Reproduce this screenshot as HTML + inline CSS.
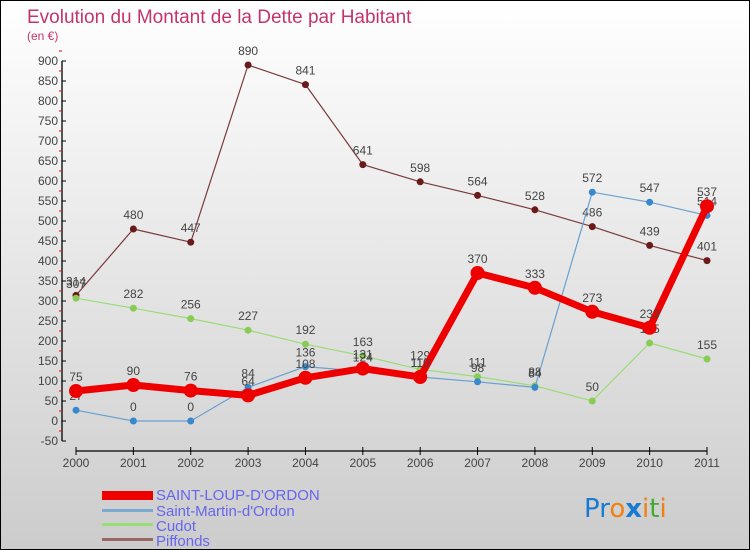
<!DOCTYPE html>
<html><head><meta charset="utf-8"><style>
body{margin:0}
#c{width:748px;height:548px;border:1px solid #000;background:linear-gradient(#fff,#ccc);position:relative;font-family:"Liberation Sans",sans-serif;overflow:hidden}
</style></head><body>
<div id="c">
<svg id="s" width="748" height="548" style="position:absolute;left:0;top:0">
<text x="26" y="22" font-size="19" fill="#c4346c">Evolution du Montant de la Dette par Habitant</text>
<text x="26" y="39" font-size="12" fill="#c4346c">(en €)</text>
<g id="ax"></g><g id="ser"></g>
<g>
<rect x="101" y="490" width="51" height="9" fill="#e00"/>
<text x="155" y="499" font-size="15" fill="#6666ee">SAINT-LOUP-D'ORDON</text>
<rect x="101" y="508" width="51" height="3" fill="#7aaad0"/>
<text x="155" y="515" font-size="15" fill="#6666ee">Saint-Martin-d'Ordon</text>
<rect x="101" y="522" width="51" height="3" fill="#99dd77"/>
<text x="155" y="530" font-size="15" fill="#6666ee">Cudot</text>
<rect x="101" y="537" width="51" height="3" fill="#996666"/>
<text x="155" y="545" font-size="15" fill="#6666ee">Piffonds</text>
</g>
<text x="583" y="516" font-size="26" font-family="DejaVu Sans"><tspan fill="#1a7ad0">Pr</tspan><tspan fill="#f08010">o</tspan><tspan fill="#1a7ad0" font-weight="bold">x</tspan><tspan fill="#f08010">i</tspan><tspan fill="#44aa33">t</tspan><tspan fill="#f08010">i</tspan></text>
</svg></div>
<script>
const years=[2000,2001,2002,2003,2004,2005,2006,2007,2008,2009,2010,2011];
const saintLoup=[75,90,76,64,108,131,110,370,333,273,233,537];
const saintMartin=[27,0,0,84,136,124,110,98,84,572,547,514];
const cudot=[307,282,256,227,192,163,129,111,88,50,195,155];
const piffonds=[314,480,447,890,841,641,598,564,528,486,439,401];
const yTicks=[-50,0,50,100,150,200,250,300,350,400,450,500,550,600,650,700,750,800,850,900];
const NS='http://www.w3.org/2000/svg';
const X=i=>75+i*(706-75)/11;
const Y=v=>420-v*0.4;
function mk(t,a,p){const e=document.createElementNS(NS,t);for(const k in a)e.setAttribute(k,a[k]);p.appendChild(e);return e;}
const ax=document.getElementById('ax');
let l=mk('line',{x1:61,y1:Y(900),x2:61,y2:Y(-50),stroke:'#000','stroke-width':1.3},ax);


yTicks.forEach(v=>{
 mk('line',{x1:61,y1:Y(v),x2:65,y2:Y(v),stroke:'#000'},ax);
 mk('line',{x1:58,y1:Y(v+25),x2:61,y2:Y(v+25),stroke:'#e00'},ax);
 const t=mk('text',{x:57,y:Y(v)+4,'font-size':12,fill:'#444','text-anchor':'end'},ax);t.textContent=v;
 
 
});
l=mk('line',{x1:75,y1:450,x2:706,y2:450,stroke:'#000','stroke-width':1.3},ax);


years.forEach((y,i)=>{
 mk('line',{x1:X(i),y1:446,x2:X(i),y2:454,stroke:'#000'},ax);
 const t=mk('text',{x:X(i),y:466,'font-size':12,fill:'#444','text-anchor':'middle'},ax);t.textContent=y;
 
 
});
const ser=document.getElementById('ser');
function draw(vals,color,dot,w,r,name){
 const g=mk('g',{},ser);
 
 
 const p=mk('polyline',{points:vals.map((v,i)=>X(i)+','+Y(v)).join(' '),fill:'none',stroke:color,'stroke-width':w,'stroke-linejoin':'round'},g);
 
 
 vals.forEach((v,i)=>{
  const c=mk('circle',{cx:X(i),cy:Y(v),r:r,fill:dot},g);
  
  
  const t=mk('text',{x:X(i),y:Y(v)-10,'font-size':12,fill:'#444','text-anchor':'middle'},g);t.textContent=v;
  
  
 });
}
draw(piffonds,'#7a3a3a','#6a1a1a',1.2,3.5,'piffonds');
draw(cudot,'#99dd77','#88cc55',1.2,3.5,'cudot');
draw(saintMartin,'#6aa0d0','#3a88cc',1.2,3.5,'saint-martin');
draw(saintLoup,'#ee0000','#ee0000',7,7,'saint-loup');
</script>
</body></html>
